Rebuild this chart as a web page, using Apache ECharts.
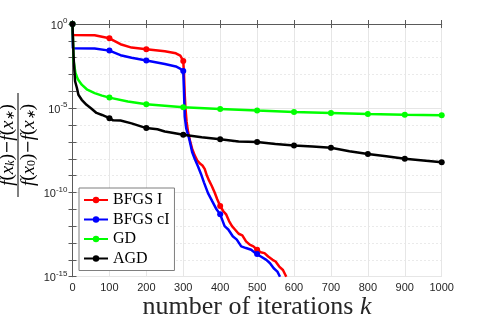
<!DOCTYPE html>
<html>
<head>
<meta charset="utf-8">
<title></title>
<style type="text/css">
	html, body { margin: 0; padding: 0; background: #fff; }
	#graphical { width: 488px; height: 326px; }
</style>
</head>
<body>
<div id="graphical"></div>
<script src="https://cdn.jsdelivr.net/npm/echarts@6/dist/echarts.min.js" type="text/javascript" charset="utf-8"></script>
<script type="text/javascript">
	// series names and colours
	var seriesNames = ['BFGS I', 'BFGS cI', 'GD', 'AGD'];
	var seriesColors = ['#ff0000', '#0000ff', '#00ff00', '#000000'];

	// x ticks / y ticks (log10 of relative error)
	var xTicks = [0, 100, 200, 300, 400, 500, 600, 700, 800, 900, 1000];
	var yMajorTicks = [0, -5, -10, -15];

	// values are log10((f(x_k)-f(x*)) / (f(x_0)-f(x*)))
	var bfgsIIter = [0, 1, 60, 100, 130, 160, 200, 250, 280, 292, 300, 302, 304, 306, 309, 313, 318, 324, 331, 338, 346, 352, 358, 364, 370, 377, 385, 392, 400, 408, 416, 424, 432, 440, 450, 460, 470, 480, 490, 500, 510, 520, 530, 542, 550, 560, 570, 579];
	var bfgsILog = [0, -0.65, -0.67, -0.85, -1.2, -1.4, -1.5, -1.62, -1.74, -1.88, -2.19, -3.0, -4.2, -5.0, -5.8, -6.4, -6.9, -7.4, -7.8, -8.1, -8.3, -8.4, -8.6, -9.0, -9.3, -9.6, -10.0, -10.4, -10.8, -11.1, -11.3, -11.7, -12.0, -12.2, -12.45, -12.55, -12.9, -13.1, -13.2, -13.4, -13.55, -13.6, -13.8, -14.0, -14.1, -14.4, -14.6, -15];

	var bfgsCIIter = [0, 1, 60, 100, 130, 160, 200, 250, 280, 290, 300, 302, 304, 308, 316, 324, 331, 340, 348, 356, 367, 378, 390, 400, 412, 422, 434, 445, 457, 470, 484, 495, 500, 510, 525, 535, 545, 555, 562];
	var bfgsCILog = [0, -1.44, -1.45, -1.58, -1.85, -2.0, -2.17, -2.38, -2.52, -2.63, -2.79, -4.0, -5.5, -6.2, -6.8, -7.6, -8.0, -8.46, -8.9, -9.4, -10.04, -10.5, -11.0, -11.3, -12.0, -12.2, -12.6, -12.8, -13.2, -13.3, -13.4, -13.6, -13.65, -13.8, -14.0, -14.2, -14.5, -14.7, -15];

	var gdIter = [0, 3, 8, 15, 25, 40, 60, 80, 100, 150, 200, 300, 400, 500, 600, 700, 800, 900, 1000];
	var gdLog = [0, -2.2, -2.9, -3.3, -3.6, -3.9, -4.1, -4.25, -4.37, -4.6, -4.76, -4.94, -5.04, -5.14, -5.22, -5.28, -5.34, -5.38, -5.41];

	var agdIter = [0, 3, 7, 12, 16, 25, 38, 50, 65, 80, 100, 110, 130, 160, 200, 230, 250, 270, 300, 350, 400, 450, 500, 550, 600, 650, 700, 750, 800, 850, 900, 950, 1000];
	var agdLog = [0, -2.0, -3.4, -3.8, -4.2, -4.5, -4.8, -5.0, -5.28, -5.4, -5.59, -5.72, -5.73, -5.9, -6.18, -6.25, -6.38, -6.45, -6.58, -6.72, -6.84, -6.97, -7.01, -7.12, -7.21, -7.27, -7.35, -7.55, -7.72, -7.85, -8.0, -8.1, -8.2];

	function pairs(xs, ys) {
		var out = [];
		for (var i = 0; i < xs.length; i++) {
			out.push([xs[i], ys[i]]);
		}
		return out;
	}

	var seriesData = [
		pairs(bfgsIIter, bfgsILog),
		pairs(bfgsCIIter, bfgsCILog),
		pairs(gdIter, gdLog),
		pairs(agdIter, agdLog)
	];

	var axisColor = '#5a5a5a';
	var labelColor = '#262626';

	var chart = echarts.init(document.getElementById('graphical'));

	var series = [];
	for (var s = 0; s < seriesNames.length; s++) {
		series.push({
			name: seriesNames[s],
			type: 'line',
			xAxisIndex: 0,
			yAxisIndex: 0,
			data: seriesData[s],
			symbol: 'circle',
			showAllSymbol: true,
			symbolSize: function(v) {
				return v[0] % 100 === 0 ? 6 : 0; // markers every 100 iterations
			},
			lineStyle: { width: 2.5, color: seriesColors[s] },
			itemStyle: { color: seriesColors[s] },
			animation: false,
			z: 3 + s
		});
	}

	// rich styles for the rotated y title
	var fracRich = {
		i: { fontFamily: 'Liberation Serif', fontStyle: 'italic', fontSize: 19, fill: '#000' },
		n: { fontFamily: 'Liberation Serif', fontSize: 19, fill: '#000' },
		m: { fontFamily: 'DejaVu Serif', fontSize: 16, fill: '#000' },
		sub: { fontFamily: 'Liberation Serif', fontStyle: 'italic', fontSize: 12, fill: '#000', verticalAlign: 'bottom' },
		sub0: { fontFamily: 'Liberation Serif', fontSize: 12, fill: '#000', verticalAlign: 'bottom' }
	};

	var option = {
		animation: false,
		grid: {
			left: 72.5,
			right: 46.3,
			top: 24,
			bottom: 49.3
		},
		legend: {
			orient: 'vertical',
			left: 79,
			top: 188,
			backgroundColor: '#ffffff',
			borderColor: '#7f7f7f',
			borderWidth: 1,
			padding: [4, 5, 4, 4],
			itemWidth: 24,
			itemHeight: 8,
			itemGap: 3.5,
			textStyle: {
				fontFamily: 'Liberation Serif',
				fontSize: 16,
				lineHeight: 16,
				color: '#000'
			},
			data: seriesNames
		},
		xAxis: [{
			type: 'value',
			position: 'bottom',
			min: 0,
			max: 1000,
			interval: 100,
			axisLine: { show: true, lineStyle: { color: axisColor, width: 1 } },
			axisTick: { show: true, inside: true, length: 4, lineStyle: { color: axisColor } },
			axisLabel: {
				color: labelColor,
				fontFamily: 'Liberation Sans',
				fontSize: 11,
				margin: 6,
				formatter: function(v) { return String(v); }
			},
			splitLine: { show: true, lineStyle: { color: '#e6e6e6', width: 1 } }
		}, {
			type: 'value',
			position: 'top',
			min: 0,
			max: 1000,
			interval: 100,
			axisLine: { show: true, lineStyle: { color: axisColor, width: 1 } },
			axisTick: { show: true, inside: true, length: 4, lineStyle: { color: axisColor } },
			axisLabel: { show: false },
			splitLine: { show: false }
		}],
		yAxis: [{
			type: 'value',
			position: 'left',
			min: -15,
			max: 0,
			interval: 1,
			axisLine: { show: true, lineStyle: { color: axisColor, width: 1 } },
			axisTick: { show: true, inside: true, length: 4, lineStyle: { color: axisColor } },
			axisLabel: {
				color: labelColor,
				margin: 5,
				formatter: function(v) {
					if (yMajorTicks.indexOf(v) < 0) return '';
					return '{b|10}{s|' + v + '}';
				},
				rich: {
					b: { fontFamily: 'Liberation Sans', fontSize: 11, color: labelColor, verticalAlign: 'bottom', lineHeight: 14 },
					s: { fontFamily: 'Liberation Sans', fontSize: 8, color: labelColor, verticalAlign: 'top', lineHeight: 14 }
				}
			},
			splitLine: { show: true, lineStyle: { color: '#d4d4d4', width: 1, type: [1, 3] } }
		}, {
			type: 'value',
			position: 'right',
			min: -15,
			max: 0,
			interval: 1,
			axisLine: { show: true, lineStyle: { color: axisColor, width: 1 } },
			axisTick: { show: true, inside: true, length: 4, lineStyle: { color: axisColor } },
			axisLabel: { show: false },
			splitLine: { show: false }
		}, {
			type: 'value',
			position: 'left',
			min: -15,
			max: 0,
			interval: 5,
			axisLine: { show: false },
			axisTick: { show: false },
			axisLabel: { show: false },
			splitLine: { show: true, lineStyle: { color: '#e6e6e6', width: 1 } }
		}],
		graphic: [{
			// y axis title: fraction, rotated
			type: 'group',
			x: 18,
			y: 145,
			rotation: Math.PI / 2,
			children: [{
				type: 'text',
				x: 0,
				y: -1,
				style: {
					text: '{i|f}{n|(}{i|x}{sub|k}{n|)}{m|\u2212}{i|f}{n|(}{i|x}{sub|\u2217}{n|)}',
					align: 'center',
					verticalAlign: 'bottom',
					rich: fracRich
				}
			}, {
				type: 'line',
				shape: { x1: -52, y1: 0, x2: 52, y2: 0 },
				style: { stroke: '#000', lineWidth: 1 }
			}, {
				type: 'text',
				x: 0,
				y: 1,
				style: {
					text: '{i|f}{n|(}{i|x}{sub0|0}{n|)}{m|\u2212}{i|f}{n|(}{i|x}{sub|\u2217}{n|)}',
					align: 'center',
					verticalAlign: 'top',
					rich: fracRich
				}
			}]
		}, {
			// x axis title
			type: 'text',
			x: 257,
			y: 307,
			style: {
				text: '{n|number of iterations }{i|k}',
				align: 'center',
				verticalAlign: 'middle',
				rich: {
					n: { fontFamily: 'Liberation Serif', fontSize: 26, fill: '#262626' },
					i: { fontFamily: 'Liberation Serif', fontStyle: 'italic', fontSize: 26, fill: '#262626' }
				}
			}
		}],
		series: series
	};

	chart.setOption(option);
	window.onresize = function() {
		chart.resize();
	};
</script>
</body>
</html>
